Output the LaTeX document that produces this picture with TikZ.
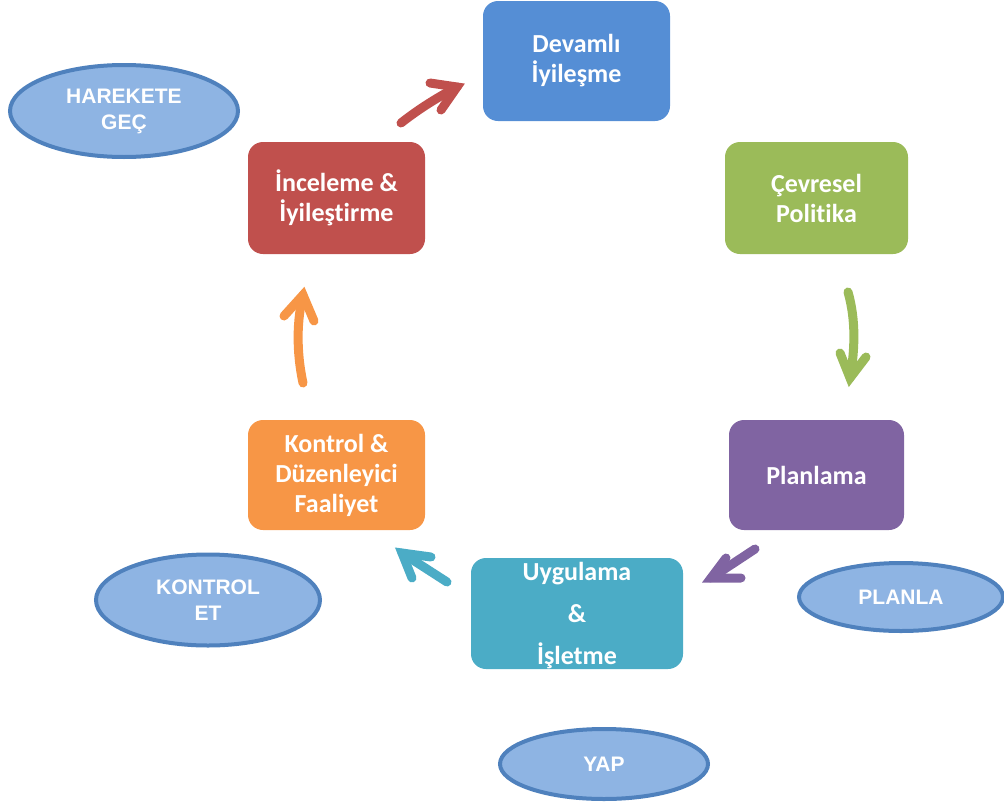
\documentclass[tikz,border=0pt]{standalone}
\usepackage{fontspec}
\setmainfont[Ligatures=NoCommon,RawFeature={-liga;-dlig;-clig}]{Carlito}
\newfontfamily\arialf{Liberation Sans}
\usetikzlibrary{shapes.geometric}
\definecolor{cblue}{HTML}{558ED5}
\definecolor{cred}{HTML}{C0504D}
\definecolor{cgreen}{HTML}{9BBB59}
\definecolor{cpurple}{HTML}{8064A2}
\definecolor{corange}{HTML}{F79646}
\definecolor{cteal}{HTML}{4BACC6}
\definecolor{ovalfill}{HTML}{8EB4E3}
\definecolor{ovalline}{HTML}{4F81BD}
\begin{document}
\begin{tikzpicture}[x=1pt,y=-1pt,
 box/.style={rectangle, rounded corners=15pt, text=white, font=\bfseries\fontsize{26}{30}\selectfont, align=center, inner sep=0pt},
 oval/.style={ellipse, draw=ovalline, line width=4pt, fill=ovalfill, text=white, font=\arialf\bfseries\fontsize{21}{26}\selectfont, align=center, inner sep=0pt},
 fat/.style={line width=9pt, line cap=round, line join=miter}]
\useasboundingbox (0,0) rectangle (1004,801);

% boxes
\node[box, fill=cblue, minimum width=187pt, minimum height=120pt] (dev) at (576.5,61) {Devamlı\\İyileşme};
\node[box, fill=cred, minimum width=177pt, minimum height=112pt] (inc) at (336.5,198) {İnceleme \&\\İyileştirme};
\node[box, fill=cgreen, minimum width=183pt, minimum height=112pt] (cev) at (816.5,198) {Çevresel\\Politika};
\node[box, fill=cpurple, minimum width=175pt, minimum height=110pt] (pla) at (816.5,475) {Planlama};
\node[box, fill=corange, minimum width=177pt, minimum height=110pt] (kon) at (336.5,475) {Kontrol \&\\Düzenleyici\\Faaliyet};
\node[box, fill=cteal, minimum width=212pt, minimum height=111pt] (uyg) at (577,613.5) {};
\node[box, anchor=center] (uygt) at (577,616) {Uygulama\\[12pt]\&\\[12pt]İşletme};

% ovals
\node[oval, minimum width=228pt, minimum height=92pt] (hg) at (124,111) {HAREKETE\\GEÇ};
\node[oval, minimum width=224pt, minimum height=91pt] (ke) at (208,600) {KONTROL\\ET};
\node[oval, minimum width=204pt, minimum height=68pt] (pl) at (901,597) {PLANLA};
\node[oval, minimum width=208pt, minimum height=70pt] (yap) at (604,764) {YAP};

% arrow coordinates
\coordinate (r0) at (401,123); \coordinate (r1) at (457,87);
\coordinate (g0) at (848,292); \coordinate (g1) at (850,378);
\coordinate (p0) at (755,549); \coordinate (p1) at (711,578);
\coordinate (t0) at (447,582); \coordinate (t1) at (402,553);
\coordinate (o0) at (303,383); \coordinate (o1) at (303,295);

% red arrow
\draw[fat, draw=cred] (r0) .. controls (420,108) and (440,96) .. (r1);
\draw[fat, draw=cred] (430,83) -- (r1) -- (441,110);
% green arrow
\draw[fat, draw=cgreen] (g0) .. controls (856,320) and (855,350) .. (g1);
\draw[fat, draw=cgreen] (840,353) -- (g1) -- (866,357);
% purple arrow
\draw[fat, draw=cpurple] (p0) -- (p1);
\draw[fat, draw=cpurple] (726,558) -- (p1) -- (741,578);
% teal arrow
\draw[fat, draw=cteal] (t0) -- (t1);
\draw[fat, draw=cteal] (412,578) -- (t1) -- (431,557);
% orange arrow
\draw[fat, draw=corange] (o0) .. controls (296,350) and (297,320) .. (o1);
\draw[fat, draw=corange] (284,316) -- (o1) -- (314,321);
\end{tikzpicture}
\end{document}
